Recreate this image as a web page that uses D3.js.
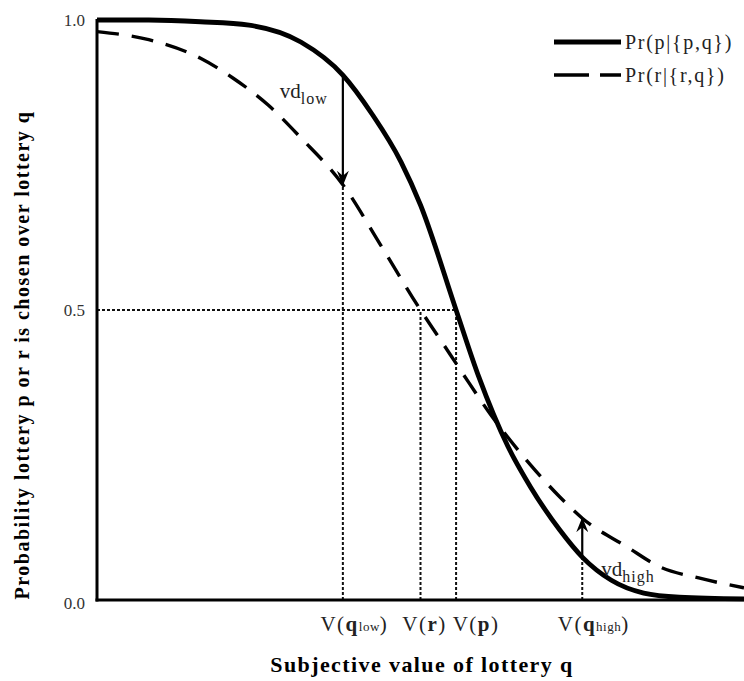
<!DOCTYPE html>
<html>
<head>
<meta charset="utf-8">
<script src="https://cdn.jsdelivr.net/npm/d3@7"></script>
<style>
  body { margin: 0; background: #fff; }
  svg { display: block; font-family: "Liberation Serif", "DejaVu Serif", serif; }
</style>
</head>
<body>
<svg id="chart" width="744" height="681"></svg>
<script>
// subjective value of q (arbitrary units) and choice probabilities
const solidX = [0, 1.6, 3.2, 4.7, 6.3, 7.6, 8.5, 9.4, 10.0, 11.1, 11.8, 12.7, 13.4, 14.3, 15.0, 15.9, 16.9, 18.0, 20];
const solidP = [1.0, 1.0, 0.997, 0.991, 0.962, 0.905, 0.838, 0.755, 0.681, 0.5, 0.385, 0.265, 0.195, 0.121, 0.074, 0.034, 0.012, 0.005, 0.002];
const dashX = [0, 1.6, 3.2, 4.2, 5.3, 6.3, 7.6, 8.8, 10.0, 10.6, 11.3, 12.1, 13.4, 14.3, 15.0, 16.4, 17.4, 18.6, 20];
const dashP = [0.98, 0.966, 0.934, 0.9, 0.853, 0.797, 0.716, 0.609, 0.5, 0.45, 0.391, 0.325, 0.233, 0.178, 0.141, 0.091, 0.057, 0.038, 0.021];

// marked values on the x axis
const markNames = ["qlow", "r", "p", "qhigh"];
const markX = [7.6, 10.0, 11.1, 15.0];
const markTop = [0.716, 0.5, 0.5, 0.074];

// value differences (arrows)
const vdNames = ["low", "high"];
const vdX = [7.6, 15.0];
const vdFrom = [0.905, 0.074];
const vdTo = [0.716, 0.141];

const yTicks = [0, 0.5, 1.0];
const legendLabels = ["Pr(p|{p,q})", "Pr(r|{r,q})"];

const svg = d3.select("#chart");
const plot = {left: 97, right: 744, top: 20, bottom: 600};

const x = d3.scaleLinear().domain([0, 20]).range([plot.left, plot.right]);
const y = d3.scaleLinear().domain([0, 1]).range([plot.bottom, plot.top]);

// arrowhead
svg.append("defs").append("marker")
    .attr("id", "head")
    .attr("viewBox", "0 0 15 12")
    .attr("refX", 14).attr("refY", 6)
    .attr("markerWidth", 15).attr("markerHeight", 12)
    .attr("markerUnits", "userSpaceOnUse")
    .attr("orient", "auto")
    .append("path")
    .attr("d", "M0,0 L15,6 L0,12 L5,6 Z")
    .attr("fill", "#000");

// dotted guides
const dotted = svg.append("g")
    .attr("stroke", "#111")
    .attr("stroke-width", 2)
    .attr("stroke-dasharray", "3,2");
dotted.append("line")
    .attr("x1", x(0)).attr("x2", x(markX[2]))
    .attr("y1", y(0.5)).attr("y2", y(0.5));
dotted.selectAll(".v")
    .data(markX)
    .join("line")
    .attr("x1", d => x(d)).attr("x2", d => x(d))
    .attr("y1", y(0)).attr("y2", (d, i) => y(markTop[i]));

// curves
const line = d3.line()
    .x(d => x(d[0]))
    .y(d => y(d[1]))
    .curve(d3.curveMonotoneX);

svg.append("path")
    .datum(dashX.map((v, i) => [v, dashP[i]]))
    .attr("d", line)
    .attr("fill", "none")
    .attr("stroke", "#000")
    .attr("stroke-width", 3.4)
    .attr("stroke-dasharray", "22,13");

svg.append("path")
    .datum(solidX.map((v, i) => [v, solidP[i]]))
    .attr("d", line)
    .attr("fill", "none")
    .attr("stroke", "#000")
    .attr("stroke-width", 4.8);

// vd arrows
svg.selectAll(".vd")
    .data(vdX)
    .join("line")
    .attr("x1", d => x(d)).attr("x2", d => x(d))
    .attr("y1", (d, i) => y(vdFrom[i]))
    .attr("y2", (d, i) => y(vdTo[i]))
    .attr("stroke", "#000")
    .attr("stroke-width", 2.2)
    .attr("marker-end", "url(#head)");

// vd labels
const vdLow = svg.append("text")
    .attr("x", x(vdX[0]) - 15).attr("y", 98)
    .attr("text-anchor", "end")
    .attr("font-size", 21).attr("fill", "#222");
vdLow.append("tspan").text("vd");
vdLow.append("tspan").attr("dy", 6).attr("font-size", 16).attr("letter-spacing", 1).text(vdNames[0]);

const vdHigh = svg.append("text")
    .attr("x", x(vdX[1]) + 19).attr("y", 576)
    .attr("font-size", 21).attr("fill", "#222");
vdHigh.append("tspan").text("vd");
vdHigh.append("tspan").attr("dy", 6).attr("font-size", 16).attr("letter-spacing", 1).text(vdNames[1]);

// axes
svg.append("line")
    .attr("x1", x(0)).attr("x2", x(0))
    .attr("y1", y(1) - 1).attr("y2", y(0) + 1.5)
    .attr("stroke", "#000").attr("stroke-width", 3);
svg.append("line")
    .attr("x1", x(0) - 1.5).attr("x2", x(20))
    .attr("y1", y(0)).attr("y2", y(0))
    .attr("stroke", "#000").attr("stroke-width", 3.2);

svg.selectAll(".ytick")
    .data(yTicks)
    .join("text")
    .attr("x", x(0) - 12)
    .attr("y", d => y(d) + (d === 0 ? 9 : 6))
    .attr("text-anchor", "end")
    .attr("font-size", 17)
    .attr("fill", "#333")
    .text(d => d.toFixed(1));

// x tick labels
const labelShift = [11.5, 4, 20, 11.5];
const xt = svg.selectAll(".xtick")
    .data(markNames)
    .join("text")
    .attr("x", (d, i) => x(markX[i]) + labelShift[i])
    .attr("y", 631)
    .attr("text-anchor", "middle")
    .attr("font-size", 21)
    .attr("letter-spacing", 1.5)
    .attr("fill", "#222");
xt.append("tspan").text("V(");
xt.append("tspan").attr("font-weight", "bold").text(d => d[0]);
xt.append("tspan").attr("font-size", 13).attr("letter-spacing", 0.5).text(d => d.slice(1));
xt.append("tspan").text(")");

// axis titles
svg.append("text")
    .attr("x", 422).attr("y", 672)
    .attr("text-anchor", "middle")
    .attr("font-size", 22)
    .attr("letter-spacing", 1.4)
    .attr("font-weight", "bold")
    .text("Subjective value of lottery q");

svg.append("text")
    .attr("transform", "translate(29,355) rotate(-90)")
    .attr("text-anchor", "middle")
    .attr("font-size", 20)
    .attr("letter-spacing", 1.5)
    .attr("font-weight", "bold")
    .text("Probability lottery p or r is chosen over lottery q");

// legend
const legend = svg.append("g").attr("transform", "translate(554,42)");
legend.append("line")
    .attr("x1", 0).attr("x2", 67).attr("y1", 0).attr("y2", 0)
    .attr("stroke", "#000").attr("stroke-width", 4.8);
legend.append("line")
    .attr("x1", 0).attr("x2", 67).attr("y1", 33).attr("y2", 33)
    .attr("stroke", "#000").attr("stroke-width", 3.4)
    .attr("stroke-dasharray", "35,11");
legend.selectAll(".lab")
    .data(legendLabels)
    .join("text")
    .attr("x", 71)
    .attr("y", (d, i) => i * 33 + 7)
    .attr("font-size", 20)
    .attr("letter-spacing", 1.7)
    .attr("fill", "#222")
    .text(d => d);
</script>
</body>
</html>
